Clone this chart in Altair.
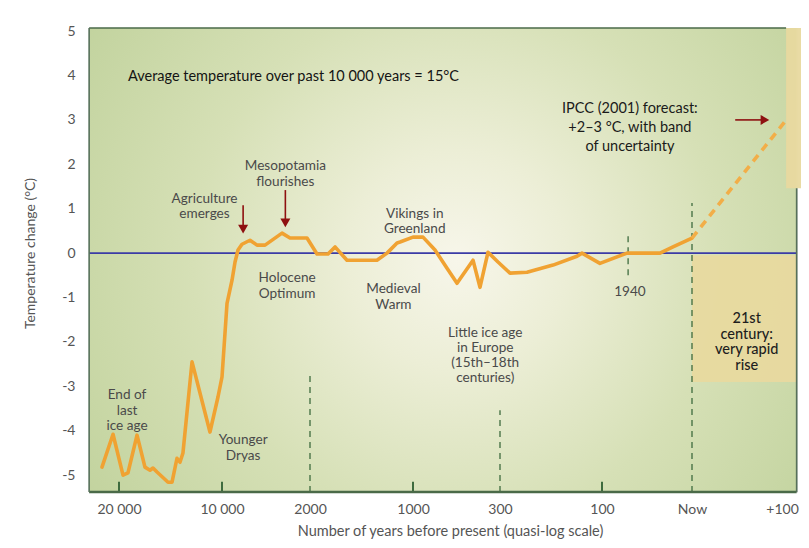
import altair as alt
import pandas as pd

# ------------------------------------------------------------------ data
tick_labels = ["20 000", "10 000", "2000", "1000", "300", "100", "Now", "+100"]
tick_index = [0, 1, 2, 3, 4, 5, 6, 7]
y_ticks = [-5, -4, -3, -2, -1, 0, 1, 2, 3, 4, 5]

# temperature record (x in quasi-log axis units, y in degC)
curve_x = [-0.165, -0.058, 0.039, 0.087, 0.175, 0.204, 0.252, 0.301, 0.330, 0.369,
           0.476, 0.515, 0.563, 0.592, 0.621, 0.709, 0.883, 0.961, 1.0, 1.057,
           1.114, 1.148, 1.182, 1.227, 1.318, 1.398, 1.489, 1.682, 1.773, 1.966,
           2.068, 2.175, 2.243, 2.359, 2.650, 2.748, 2.845, 2.874, 3.0, 3.115,
           3.253, 3.391, 3.506, 3.690, 3.770, 3.862, 3.977, 4.098, 4.265, 4.520,
           4.755, 4.804, 4.980, 5.278, 5.644, 5.789, 6.0]
curve_y = [-4.82, -4.08, -5.0, -4.95, -4.10, -4.37, -4.82, -4.89, -4.84, -4.93,
           -5.16, -5.16, -4.62, -4.71, -4.50, -2.45, -4.03, -3.24, -2.79, -1.13,
           -0.61, -0.20, 0.07, 0.20, 0.29, 0.18, 0.18, 0.45, 0.34, 0.34,
           -0.02, -0.02, 0.14, -0.16, -0.16, 0.0, 0.23, 0.25, 0.36, 0.36,
           0.07, -0.34, -0.68, -0.16, -0.77, 0.02, -0.20, -0.45, -0.43, -0.27,
           -0.07, 0.0, -0.23, 0.0, 0.0, 0.14, 0.34]

forecast_x = [6.0, 7.0]
forecast_y = [0.34, 3.05]

# dashed markers: 2000, 300, 1940, Now
marker_x = [2, 4, 5.29, 6]
marker_top = [-2.75, -3.54, 0.45, 1.13]
marker_bottom = [-5.38, -5.38, -0.5, -5.38]

# small solid ticks on the time axis
solid_tick_x = [0, 1, 3, 5]

# axis extents
x_min, x_max = -0.29, 7.09
y_min, y_max = -5.38, 5.07

# shaded boxes
box_x = [6.0, 6.98]
box_x2 = [7.09, 7.2]
box_y = [-2.9, 1.46]
box_y2 = [-0.05, 5.07]

# arrows (vertical ones: Agriculture, Mesopotamia; horizontal: IPCC)
varrow_x = [1.24, 1.72]
varrow_from = [1.08, 1.42]
varrow_to = [0.50, 0.64]
varrow_head = [0.54, 0.68]
harrow_y = [3.0]
harrow_from = [6.45]
harrow_to = [6.74]
harrow_head = [6.76]

# annotations
note_text = ["Mesopotamia\nflourishes", "Agriculture\nemerges", "Vikings in\nGreenland",
             "Holocene\nOptimum", "Medieval\nWarm", "End of\nlast\nice age",
             "Younger\nDryas", "1940"]
note_x = [1.72, 0.83, 3.02, 1.74, 2.81, 0.078, 1.24, 5.31]
note_y = [1.96, 1.23, 0.89, -0.57, -0.81, -3.20, -4.22, -0.88]

lia_text = ["Little ice age\nin Europe\n(15th\u201318th\ncenturies)"]
lia_x = [3.83]
lia_y = [-1.79]

headline_text = ["Average temperature over past 10 000 years = 15\u00b0C"]
headline_x = [0.087]
headline_y = [3.96]

ipcc_text = ["IPCC (2001) forecast:\n+2\u20133 \u00b0C, with band\nof uncertainty"]
ipcc_x = [5.31]
ipcc_y = [3.24]

century_text = ["21st\ncentury:\nvery rapid\nrise"]
century_x = [6.57]
century_y = [-1.48]

# ------------------------------------------------------------------ scales
FONT = "Lato"
label_expr = "[" + ",".join("'%s'" % t for t in tick_labels) + "][datum.value]"
xscale = alt.Scale(domain=tick_index, range=[30, 133, 221, 324, 411, 513, 603, 699],
                   zero=False, nice=False)
yscale = alt.Scale(domain=[y_min, y_max], zero=False, nice=False)
xaxis = alt.Axis(values=tick_index, labelExpr=label_expr, title="Number of years before present (quasi-log scale)",
                 grid=False, domain=False, ticks=False, labelPadding=10, labelFontSize=14,
                 labelColor="#555", labelFont=FONT, labelOverlap=False, labelFlush=False,
                 labelOffset={"condition": {"test": "datum.value == 7", "value": -6}, "value": 0},
                 titleFont=FONT, titleFontSize=14.5, titleFontWeight="normal", titleColor="#555",
                 titleX=361, titleY=39, titleBaseline="middle")
yaxis = alt.Axis(values=y_ticks, labelExpr="'' + datum.value", title="Temperature change (\u00b0C)",
                 grid=False, domain=False,
                 ticks=False, labelPadding=14, labelFontSize=14, labelColor="#555", labelFont=FONT,
                 titleFont=FONT, titleFontSize=14, titleFontWeight="normal", titleColor="#555",
                 titleX=-59, titleY=225, titleBaseline="middle", titleAlign="center")


def X(f):
    return alt.X(f, type="quantitative", scale=xscale, axis=xaxis)


def Y(f):
    return alt.Y(f, type="quantitative", scale=yscale, axis=yaxis)


# ------------------------------------------------------------------ layers
bg = pd.DataFrame({"x": [x_min], "x2": [x_max], "y": [y_min], "y2": [y_max]})
gradient = {
    "gradient": "radial", "x1": 0.52, "y1": 0.5, "r1": 0, "x2": 0.52, "y2": 0.5, "r2": 0.62,
    "stops": [{"offset": 0, "color": "#f7f6ea"}, {"offset": 0.25, "color": "#eceed6"},
              {"offset": 0.6, "color": "#d6e0b6"}, {"offset": 1, "color": "#c2d39e"}],
}
background = alt.Chart(bg).mark_rect(color=gradient).encode(x=X("x"), x2="x2", y=Y("y"), y2="y2")

boxes = alt.Chart(pd.DataFrame({"x": box_x, "x2": box_x2, "y": box_y, "y2": box_y2})).mark_rect(
    color="#e8d99f", opacity=0.95).encode(x=X("x"), x2="x2", y=Y("y"), y2="y2")

zero = alt.Chart(pd.DataFrame({"x": [x_min], "x2": [x_max], "y": [0]})).mark_rule(
    color="#3b3ba6", strokeWidth=1.6).encode(x=X("x"), x2="x2", y=Y("y"))

markers = alt.Chart(pd.DataFrame({"x": marker_x, "y": marker_bottom, "y2": marker_top})).mark_rule(
    color="#3e6b3e", strokeWidth=1.3, strokeDash=[6, 5]).encode(x=X("x"), y=Y("y"), y2="y2")

solid_ticks = alt.Chart(pd.DataFrame({"x": solid_tick_x, "y": [y_min] * 4, "y2": [-5.15] * 4})).mark_rule(
    color="#3e6b3e", strokeWidth=2).encode(x=X("x"), y=Y("y"), y2="y2")

border_h = alt.Chart(pd.DataFrame({"x": [x_min, x_min], "x2": [x_max, 6.98], "y": [y_min, y_max],
                                   "w": [2.6, 1.4]})).mark_rule(color="#4a6a48").encode(
    x=X("x"), x2="x2", y=Y("y"), strokeWidth=alt.StrokeWidth("w:Q", scale=None, legend=None))
border_v = alt.Chart(pd.DataFrame({"x": [x_min, x_max], "y": [y_min, y_min], "y2": [y_max, 1.46]})).mark_rule(
    color="#56705a", strokeWidth=1.6).encode(x=X("x"), y=Y("y"), y2="y2")

curve = alt.Chart(pd.DataFrame({"x": curve_x, "y": curve_y})).mark_line(
    color="#f0a232", strokeWidth=3.6, strokeJoin="round", strokeCap="round").encode(x=X("x"), y=Y("y"))

forecast = alt.Chart(pd.DataFrame({"x": forecast_x, "y": forecast_y})).mark_line(
    color="#f2ae48", strokeWidth=3.6, strokeDash=[8, 6]).encode(x=X("x"), y=Y("y"))

ARROW = "#8e1010"
vshaft = alt.Chart(pd.DataFrame({"x": varrow_x, "y": varrow_from, "y2": varrow_to})).mark_rule(
    color=ARROW, strokeWidth=1.6).encode(x=X("x"), y=Y("y"), y2="y2")
vhead = alt.Chart(pd.DataFrame({"x": varrow_x, "y": varrow_head})).mark_point(
    shape="triangle-down", filled=True, color=ARROW, size=100, opacity=1).encode(x=X("x"), y=Y("y"))
hshaft = alt.Chart(pd.DataFrame({"x": harrow_from, "x2": harrow_to, "y": harrow_y})).mark_rule(
    color=ARROW, strokeWidth=1.6).encode(x=X("x"), x2="x2", y=Y("y"))
hhead = alt.Chart(pd.DataFrame({"x": harrow_head, "y": harrow_y})).mark_point(
    shape="triangle-right", filled=True, color=ARROW, size=100, opacity=1).encode(x=X("x"), y=Y("y"))


def text_layer(texts, xs, ys, size, color, line_height, align="center", weight="normal"):
    return alt.Chart(pd.DataFrame({"t": texts, "x": xs, "y": ys})).mark_text(
        font=FONT, fontSize=size, color=color, lineBreak="\n", lineHeight=line_height,
        align=align, baseline="middle", fontWeight=weight).encode(x=X("x"), y=Y("y"), text="t:N")


notes = text_layer(note_text, note_x, note_y, 13.6, "#4a4a4a", 15.5)
lia = text_layer(lia_text, lia_x, lia_y, 13.6, "#4a4a4a", 15)
headline = text_layer(headline_text, headline_x, headline_y, 14.5, "#141414", 16, align="left")
ipcc = text_layer(ipcc_text, ipcc_x, ipcc_y, 14.5, "#1a1a1a", 19)
century = text_layer(century_text, century_x, century_y, 14.5, "#1e1e1e", 15.7, weight=500)

chart = alt.layer(
    background, boxes, zero, markers, solid_ticks, border_h, border_v,
    curve, forecast, vshaft, vhead, hshaft, hhead,
    notes, lia, headline, ipcc, century,
).properties(
    width=708, height=464,
    autosize=alt.AutoSizeParams(type="none"),
    padding={"left": 81, "top": 20, "right": 4, "bottom": 48},
).configure_view(stroke=None).configure(background="white")

chart.save("out.html", embed_options={"renderer": "svg", "actions": False})
